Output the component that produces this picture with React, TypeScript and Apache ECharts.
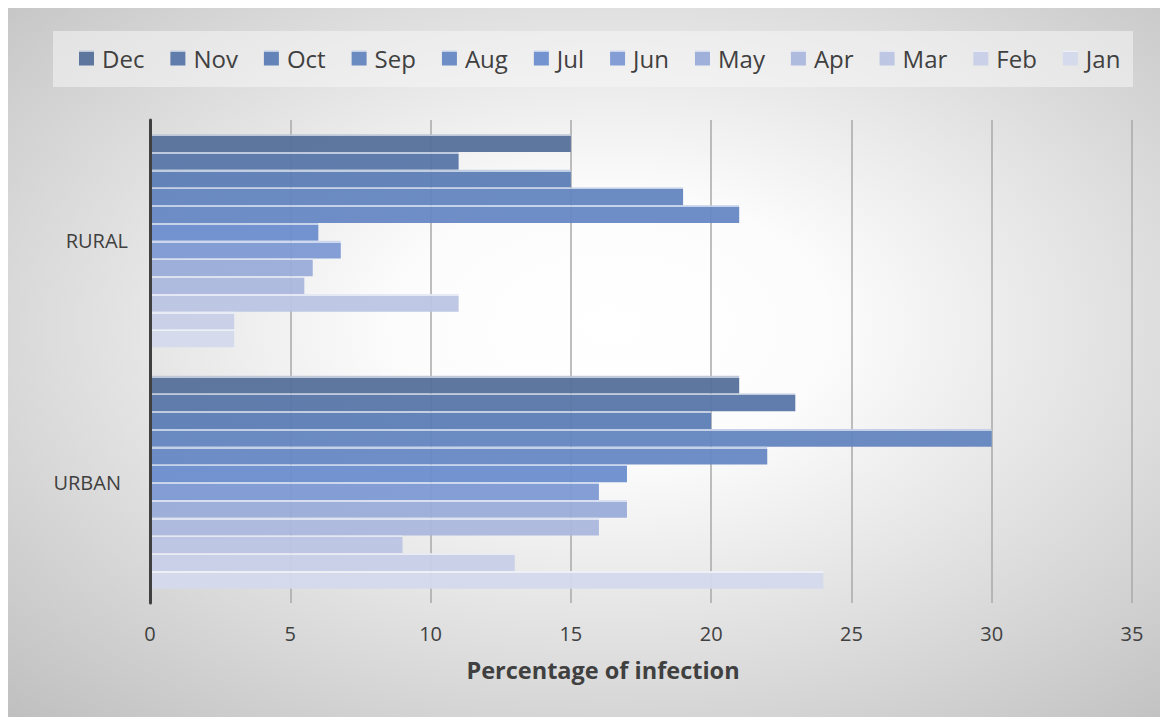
import React, { useEffect, useRef } from "react";
import * as echarts from "echarts";

const categories = ["RURAL", "URBAN"];
const months = ["Dec", "Nov", "Oct", "Sep", "Aug", "Jul", "Jun", "May", "Apr", "Mar", "Feb", "Jan"];
const rural = [15, 11, 15, 19, 21, 6, 6.8, 5.8, 5.5, 11, 3, 3];
const urban = [21, 23, 20, 30, 22, 17, 16, 17, 16, 9, 13, 24];
const colors = [
  "#56709a", "#5876a8", "#5c7eb6", "#6385bf", "#6788c4", "#6b8ecd",
  "#7e9ad4", "#9aacd9", "#abb8de", "#bbc5e3", "#c8cfe7", "#d4daec",
];
const xMin = 0;
const xMax = 35;
const xInterval = 5;
const axisTitle = "Percentage of infection";

const FONT = "'Open Sans', 'Noto Sans', sans-serif";
const TEXT = "#404040";

function lighten(hex: string, t: number) {
  const n = parseInt(hex.slice(1), 16);
  const r = (n >> 16) & 255, g = (n >> 8) & 255, b = n & 255;
  const m = (c: number) => Math.round(c + (255 - c) * t);
  return `rgb(${m(r)},${m(g)},${m(b)})`;
}

function barColor(c: string) {
  return new echarts.graphic.LinearGradient(0, 0, 0, 1, [
    { offset: 0, color: lighten(c, 0.6) },
    { offset: 0.1, color: lighten(c, 0.6) },
    { offset: 0.1, color: c },
    { offset: 1, color: c },
  ]);
}

export default function App() {
  const ref = useRef<HTMLDivElement>(null);
  useEffect(() => {
    document.body.style.overflow = "hidden";
    const chart = echarts.init(ref.current!, undefined, { renderer: "svg" });
    chart.setOption({
      animation: false,
      backgroundColor: new echarts.graphic.RadialGradient(0.52, 0.45, 0.75, [
        { offset: 0, color: "#ffffff" },
        { offset: 0.25, color: "#fcfcfc" },
        { offset: 1, color: "#c0c0c0" },
      ]),
      graphic: [
        {
          type: "rect",
          left: 45,
          top: 23,
          shape: { width: 1080, height: 56 },
          style: { fill: "rgba(245,245,245,0.55)" },
          z: -1,
        },
      ],
      legend: {
        data: months,
        left: 66,
        top: 32,
        icon: "rect",
        itemWidth: 15,
        itemHeight: 15,
        itemGap: 26,
        textStyle: { fontSize: 24, color: TEXT, fontFamily: FONT, lineHeight: 26, padding: [0, 0, 0, 3] },
      },
      grid: { left: 142, right: 36, top: 112, bottom: 114, containLabel: false },
      xAxis: {
        type: "value",
        min: xMin,
        max: xMax,
        interval: xInterval,
        axisLine: { show: false },
        axisTick: { show: false },
        splitLine: { lineStyle: { color: "#a8a8a8", width: 1.5 } },
        axisLabel: { fontSize: 20, color: TEXT, fontFamily: FONT, margin: 20 },
        name: axisTitle,
        nameLocation: "middle",
        nameGap: 55,
        nameTextStyle: {
          fontSize: 23.5,
          fontWeight: "bold",
          color: TEXT,
          fontFamily: FONT,
          padding: [0, 76, 0, 0],
        },
      },
      yAxis: {
        type: "category",
        data: categories,
        inverse: true,
        z: 5,
        axisLine: { lineStyle: { color: "#404040", width: 3 } },
        axisTick: { show: false },
        axisLabel: {
          margin: 22,
          formatter: (v: string) => (v === "URBAN" ? `{u|${v}}` : `{r|${v}}`),
          rich: {
            r: { fontSize: 20, color: TEXT, fontFamily: FONT },
            u: { fontSize: 20, color: TEXT, fontFamily: FONT, padding: [0, 7, 0, 0] },
          },
        },
      },
      series: months.map((m, i) => ({
        name: m,
        type: "bar",
        barGap: "0%",
        barCategoryGap: "11.8%",
        data: [rural[i], urban[i]],
        itemStyle: { color: barColor(colors[i]), opacity: 0.95 },
      })),
    });
    return () => chart.dispose();
  }, []);
  return <div ref={ref} style={{ width: 1160, height: 709 }} />;
}
